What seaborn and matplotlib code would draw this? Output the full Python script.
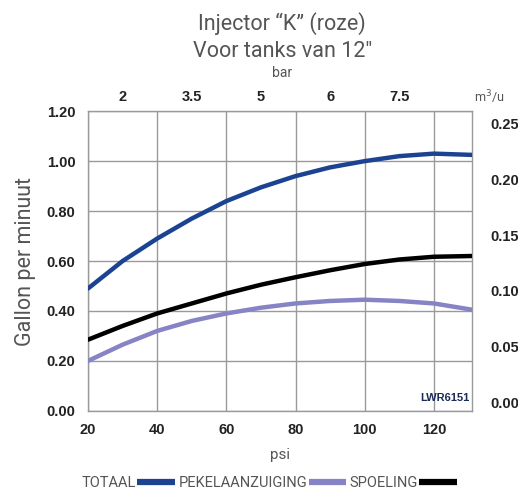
import matplotlib
matplotlib.use("Agg")
import matplotlib.pyplot as plt
import numpy as np
import pandas as pd
import seaborn as sns

# values (gallon per minute vs psi)
psi = [20, 30, 40, 50, 60, 70, 80, 90, 100, 110, 120, 131]
totaal = [0.49, 0.60, 0.69, 0.77, 0.84, 0.895, 0.94, 0.975, 1.00, 1.02, 1.03, 1.025]
pekelaanzuiging = [0.20, 0.265, 0.32, 0.36, 0.39, 0.413, 0.43, 0.44, 0.445, 0.44, 0.43, 0.405]
spoeling = [0.285, 0.34, 0.39, 0.43, 0.47, 0.505, 0.535, 0.563, 0.588, 0.606, 0.617, 0.62]

series_names = ["TOTAAL", "PEKELAANZUIGING", "SPOELING"]
series_colors = ["#1c4391", "#8684c4", "#000000"]

psi_ticks = [20, 40, 60, 80, 100, 120]
gpm_ticks = [0.0, 0.2, 0.4, 0.6, 0.8, 1.0, 1.2]
bar_pos = [30, 50, 70, 90, 110]
bar_labels = ["2", "3.5", "5", "6", "7.5"]
m3_ticks = [0.00, 0.05, 0.10, 0.15, 0.20, 0.25]

df = pd.DataFrame({
    "psi": psi * 3,
    "gpm": totaal + pekelaanzuiging + spoeling,
    "serie": sum([[n] * len(psi) for n in series_names], []),
})

sns.set_style("white")
plt.rcParams["font.family"] = ["Liberation Sans", "DejaVu Sans"]
plt.rcParams["lines.solid_joinstyle"] = "round"
grey = "#555555"
grid_c = "#9a9a9a"

fig = plt.figure(figsize=(5.18, 4.92), dpi=100)
ax = fig.add_axes([0.170, 0.165, 0.741, 0.609])

sns.lineplot(data=df, x="psi", y="gpm", hue="serie", hue_order=series_names,
             palette=series_colors, linewidth=3.2, legend=False, ax=ax, zorder=3)

ax.set_xlim(20, 131)
ax.set_ylim(0, 1.2)
ax.set_xticks(psi_ticks)
ax.set_yticks(gpm_ticks)
ax.set_yticklabels([f"{v:.2f}" for v in gpm_ticks])
ax.grid(True, color=grid_c, lw=1.0)
for s in ax.spines.values():
    s.set_color(grid_c)
    s.set_linewidth(1.0)
ax.tick_params(length=0, labelsize=10.5, labelcolor="#222222", pad=9)
for lab in ax.get_xticklabels() + ax.get_yticklabels():
    lab.set_fontweight("bold")
ax.set_xlabel("psi", color=grey, fontsize=11, labelpad=8, family="Roboto")
ax.set_ylabel("Gallon per minuut", color=grey, fontsize=15.5, labelpad=8, family="Roboto")

# top bar axis
axt = ax.twiny()
axt.set_xlim(ax.get_xlim())
axt.set_xticks(bar_pos)
axt.set_xticklabels(bar_labels)
axt.tick_params(length=0, labelsize=10.5, labelcolor="#222222", pad=5)
for lab in axt.get_xticklabels():
    lab.set_fontweight("bold")
for s in axt.spines.values():
    s.set_visible(False)

# right m3/u axis
axr = ax.twinx()
axr.set_ylim(-0.0071, 0.2607)
axr.set_yticks(m3_ticks)
axr.set_yticklabels([f"{v:.2f}" for v in m3_ticks])
axr.tick_params(length=0, labelsize=10.5, labelcolor="#222222", pad=13)
for lab in axr.get_yticklabels():
    lab.set_fontweight("bold")
for s in axr.spines.values():
    s.set_visible(False)

fig.text(0.945, 0.802, "m$^3$/u", color=grey, fontsize=9, ha="center", va="center", family="Roboto")
ax.text(0.995, 0.025, "LWR6151", transform=ax.transAxes, ha="right", va="bottom",
        fontsize=8, fontweight="bold", color="#1a2a55")

fig.text(0.545, 0.952, "Injector \u201cK\u201d (roze)", ha="center", va="center",
         fontsize=15.5, color=grey, family="Roboto")
fig.text(0.545, 0.895, "Voor tanks van 12\"", ha="center", va="center",
         fontsize=15.5, color=grey, family="Roboto")
fig.text(0.545, 0.852, "bar", ha="center", va="center", fontsize=10, color=grey, family="Roboto")

handles = [plt.Line2D([], [], color=c, lw=4.5, solid_capstyle="butt") for c in series_colors]
leg = fig.legend(handles, series_names, loc="center", bbox_to_anchor=(0.52, 0.018),
                 ncol=3, frameon=False, markerfirst=False, handlelength=2.6,
                 handletextpad=0.1, columnspacing=0.2,
                 prop={"family": "Roboto", "size": 10.5})
for t in leg.get_texts():
    t.set_color(grey)

fig.savefig("out.png", dpi=100)
